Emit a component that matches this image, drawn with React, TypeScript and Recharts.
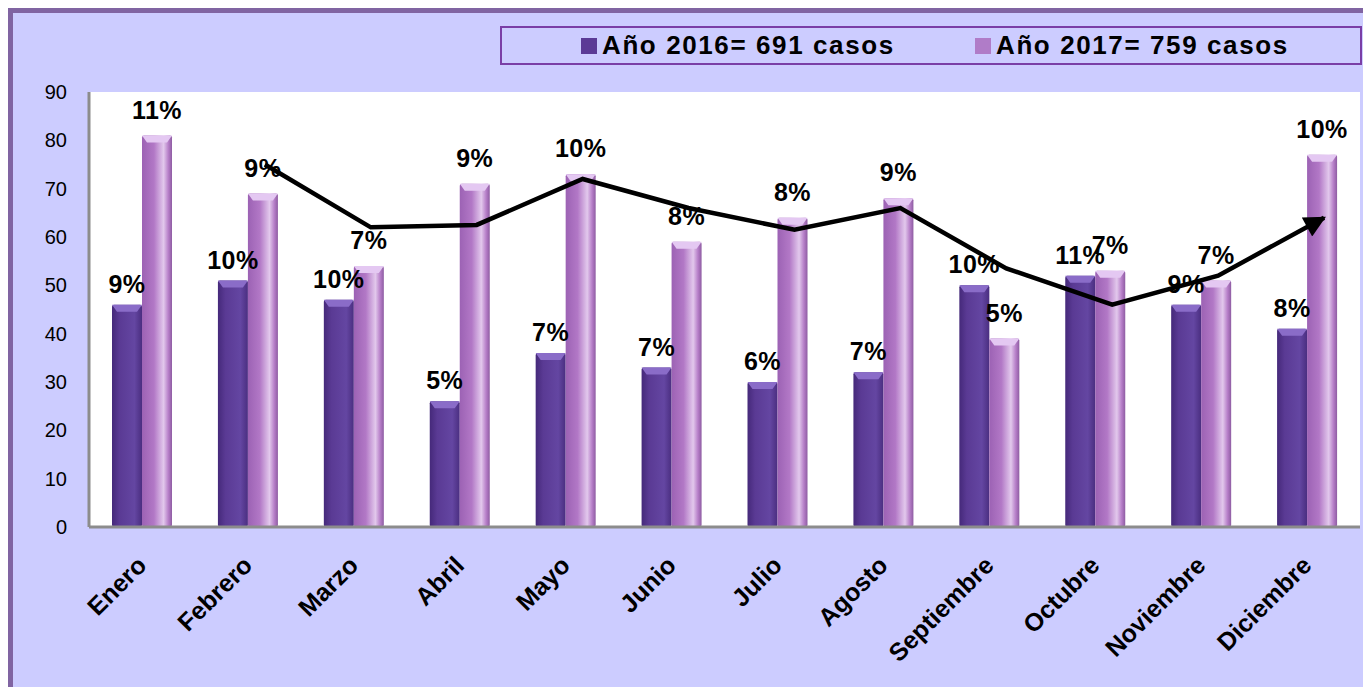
import { ComposedChart, Bar, Line, XAxis, YAxis, CartesianGrid, LabelList } from 'recharts';

const months = ['Enero', 'Febrero', 'Marzo', 'Abril', 'Mayo', 'Junio', 'Julio', 'Agosto', 'Septiembre', 'Octubre', 'Noviembre', 'Diciembre'];
const cases2016 = [46, 51, 47, 26, 36, 33, 30, 32, 50, 52, 46, 41];
const cases2017 = [81, 69, 54, 71, 73, 59, 64, 68, 39, 53, 51, 77];
const pct2016 = [9, 10, 10, 5, 7, 7, 6, 7, 10, 11, 9, 8];
const pct2017 = [11, 9, 7, 9, 10, 8, 8, 9, 5, 7, 7, 10];
const trend = [null, 75, 62, 62.5, 72, 66, 61.5, 66, 53.5, 46, 52, 64];
const yTicks = [0, 10, 20, 30, 40, 50, 60, 70, 80, 90];

const data = months.map((m, i) => ({
  month: m,
  y2016: cases2016[i],
  y2017: cases2017[i],
  p16: pct2016[i],
  p17: pct2017[i],
  trend: trend[i],
}));

const font = "'Liberation Sans', Arial, sans-serif";

function GlassBar(props: any) {
  const { x, y, width, height, fill, cap } = props;
  if (!height || height <= 0) return null;
  const capH = Math.min(7, height);
  return (
    <g>
      <rect x={x} y={y} width={width} height={height} fill={fill} rx={2} />
      <polygon
        points={`${x},${y} ${x + width},${y} ${x + width - 5},${y + capH} ${x + 5},${y + capH}`}
        fill={cap}
      />
    </g>
  );
}

function MonthTick({ x, y, payload }: any) {
  const ax = x + 6;
  const ay = y + 38;
  return (
    <text
      x={ax}
      y={ay}
      transform={`rotate(-45 ${ax} ${ay})`}
      textAnchor="end"
      fontSize={25}
      fontWeight="bold"
      fontFamily={font}
      fill="#000"
    >
      {payload.value}
    </text>
  );
}

function LegendBox() {
  const item = (color: string, text: string, left: number) => (
    <div style={{ position: 'absolute', left, top: 0, height: 35, display: 'flex', alignItems: 'center' }}>
      <span style={{ width: 16, height: 16, background: color, marginRight: 5, display: 'inline-block' }} />
      <span style={{ fontFamily: font, fontWeight: 'bold', fontSize: 26, letterSpacing: 1.6, color: '#000' }}>{text}</span>
    </div>
  );
  return (
    <div
      style={{
        position: 'absolute',
        left: 487,
        top: 13,
        width: 858,
        height: 35,
        border: '2px solid #7a3ea6',
        background: '#ccccff',
      }}
    >
      {item('#5b3a96', 'Año 2016= 691 casos', 79)}
      {item('#b07cc8', 'Año 2017= 759 casos', 473)}
    </div>
  );
}

export default function App() {
  return (
    <div
      style={{
        position: 'relative',
        width: 1363,
        height: 679,
        boxSizing: 'border-box',
        borderLeft: '5px solid #8064a2',
        borderTop: '5px solid #8064a2',
        background: '#ccccff',
        overflow: 'hidden',
      }}
    >
      <ComposedChart
        width={1358}
        height={674}
        data={data}
        margin={{ top: 79, right: 11, bottom: 0, left: 0 }}
        barGap={0}
        barSize={30}
      >
        <defs>
          <linearGradient id="g16" x1="0" y1="0" x2="1" y2="0">
            <stop offset="0%" stopColor="#45297a" />
            <stop offset="25%" stopColor="#5a3a94" />
            <stop offset="75%" stopColor="#6446a2" />
            <stop offset="100%" stopColor="#4a2e80" />
          </linearGradient>
          <linearGradient id="g17" x1="0" y1="0" x2="1" y2="0">
            <stop offset="0%" stopColor="#9c62b4" />
            <stop offset="40%" stopColor="#b278c6" />
            <stop offset="72%" stopColor="#e2c8ec" />
            <stop offset="88%" stopColor="#b67ec8" />
            <stop offset="100%" stopColor="#8e5ca2" />
          </linearGradient>
          <marker id="arrowHead" viewBox="0 0 10 10" refX="9" refY="5" markerWidth="5.2" markerHeight="4.8" orient="auto">
            <path d="M0,0 L10,5 L0,10 z" fill="#000" />
          </marker>
        </defs>
        <CartesianGrid xAxisId="main" horizontal={false} vertical={false} fill="#ffffff" />
        <XAxis
          xAxisId="main"
          dataKey="month"
          height={160}
          interval={0}
          tickLine={false}
          tickSize={0}
          axisLine={{ stroke: '#8c8c8c', strokeWidth: 3 }}
          tick={<MonthTick />}
        />
        <XAxis xAxisId="line" dataKey="month" hide height={0} padding={{ left: 17, right: -17 }} />
        <YAxis
          width={76}
          domain={[0, 90]}
          ticks={yTicks}
          interval={0}
          tickLine={false}
          tickSize={0}
          tickMargin={22}
          axisLine={{ stroke: '#8c8c8c', strokeWidth: 3 }}
          tick={{ fontSize: 20, fontFamily: font, fill: '#000' }}
        />
        <Bar xAxisId="main" dataKey="y2016" fill="url(#g16)" shape={<GlassBar cap="#8a6cc8" />} isAnimationActive={false}>
          <LabelList
            dataKey="p16"
            position="top"
            offset={12}
            formatter={(v: any) => `${v}%`}
            style={{ fontSize: 25, fontWeight: 'bold', fontFamily: font, fill: '#000', letterSpacing: 0.5 }}
          />
        </Bar>
        <Bar xAxisId="main" dataKey="y2017" fill="url(#g17)" shape={<GlassBar cap="#e4c8f2" />} isAnimationActive={false}>
          <LabelList
            dataKey="p17"
            position="top"
            offset={17}
            formatter={(v: any) => `${v}%`}
            style={{ fontSize: 25, fontWeight: 'bold', fontFamily: font, fill: '#000', letterSpacing: 0.5 }}
          />
        </Bar>
        <Line
          xAxisId="line"
          type="linear"
          dataKey="trend"
          stroke="#000"
          strokeWidth={4.5}
          dot={false}
          activeDot={false}
          markerEnd="url(#arrowHead)"
          isAnimationActive={false}
        />
      </ComposedChart>
      <LegendBox />
    </div>
  );
}
